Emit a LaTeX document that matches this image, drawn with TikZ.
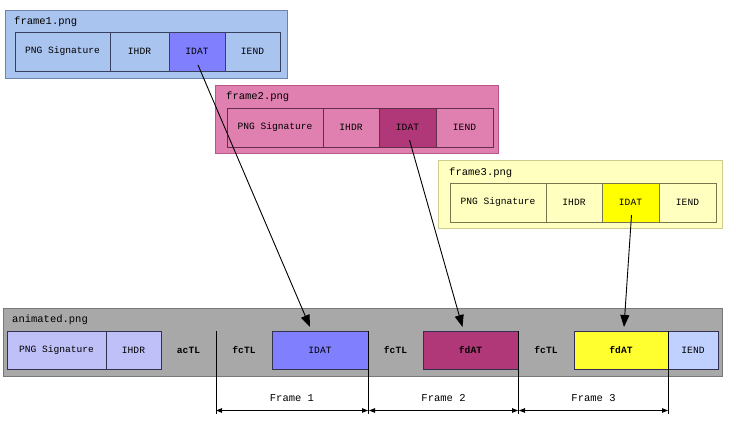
\documentclass[tikz,border=0pt]{standalone}
\usepackage{fontspec}
\setmonofont{Liberation Mono}
\usetikzlibrary{arrows.meta,positioning}
\definecolor{fonebg}{RGB}{170,196,240}
\definecolor{fonebd}{RGB}{110,130,175}
\definecolor{fonecell}{RGB}{55,65,95}
\definecolor{idatblue}{RGB}{128,128,255}
\definecolor{ftwobg}{RGB}{224,128,176}
\definecolor{ftwobd}{RGB}{185,85,135}
\definecolor{ftwocell}{RGB}{100,45,75}
\definecolor{idatmag}{RGB}{176,56,120}
\definecolor{fthreebg}{RGB}{255,255,192}
\definecolor{fthreebd}{RGB}{205,205,140}
\definecolor{fthreecell}{RGB}{120,120,80}
\definecolor{idatyel}{RGB}{255,255,0}
\definecolor{anibg}{RGB}{168,168,168}
\definecolor{anibd}{RGB}{120,120,120}
\definecolor{anicell}{RGB}{50,50,80}
\definecolor{lav}{RGB}{192,192,248}
\definecolor{iendblue}{RGB}{192,208,255}
\definecolor{fdyel}{RGB}{255,255,48}
\begin{document}
\begin{tikzpicture}[x=1pt,y=-1pt,
  box/.style={draw, anchor=north west, inner sep=0pt, outer sep=0pt, line width=0.8pt},
  cell/.style={draw, anchor=north west, inner sep=0pt, outer sep=0pt, line width=0.8pt, font=\ttfamily\fontsize{9.6}{10}\selectfont},
  bcell/.style={cell, font=\ttfamily\bfseries\fontsize{9.6}{10}\selectfont},
  title/.style={anchor=west, inner sep=0pt, font=\ttfamily\fontsize{10.5}{11}\selectfont},
  link/.style={line width=0.9pt, -{Triangle[length=12pt,width=9pt]}},
  dim/.style={line width=0.8pt, {Triangle[length=6pt,width=4.5pt]}-{Triangle[length=6pt,width=4.5pt]}},
  ext/.style={line width=0.6pt}
]
\useasboundingbox (0,0) rectangle (736,437);
% frame1
\node[box, fill=fonebg, draw=fonebd, minimum width=282pt, minimum height=68pt] (f1) at (5,10) {};
\node[title] (f1t) at (14,22) {frame1.png};
\node[cell, fill=fonebg, draw=fonecell, minimum width=95pt, minimum height=39pt] (f1sig) at (15,32) {PNG Signature};
\node[cell, fill=fonebg, draw=fonecell, minimum width=59pt, minimum height=39pt] (f1ihdr) at (110,32) {IHDR};
\node[cell, fill=idatblue, draw=fonecell, minimum width=56pt, minimum height=39pt] (f1idat) at (169,32) {IDAT};
\node[cell, fill=fonebg, draw=fonecell, minimum width=55pt, minimum height=39pt] (f1iend) at (225,32) {IEND};
% frame2
\node[box, fill=ftwobg, draw=ftwobd, minimum width=283pt, minimum height=68pt] (f2) at (215,85) {};
\node[title] (f2t) at (226,97) {frame2.png};
\node[cell, fill=ftwobg, draw=ftwocell, minimum width=96pt, minimum height=39pt] (f2sig) at (227,108) {PNG Signature};
\node[cell, fill=ftwobg, draw=ftwocell, minimum width=56pt, minimum height=39pt] (f2ihdr) at (323,108) {IHDR};
\node[cell, fill=idatmag, draw=ftwocell, minimum width=57pt, minimum height=39pt] (f2idat) at (379,108) {IDAT};
\node[cell, fill=ftwobg, draw=ftwocell, minimum width=57pt, minimum height=39pt] (f2iend) at (436,108) {IEND};
% frame3
\node[box, fill=fthreebg, draw=fthreebd, minimum width=284pt, minimum height=68pt] (f3) at (438,160) {};
\node[title] (f3t) at (449,173) {frame3.png};
\node[cell, fill=fthreebg, draw=fthreecell, minimum width=96pt, minimum height=39pt] (f3sig) at (450,183) {PNG Signature};
\node[cell, fill=fthreebg, draw=fthreecell, minimum width=56pt, minimum height=39pt] (f3ihdr) at (546,183) {IHDR};
\node[cell, fill=idatyel, draw=fthreecell, minimum width=57pt, minimum height=39pt] (f3idat) at (602,183) {IDAT};
\node[cell, fill=fthreebg, draw=fthreecell, minimum width=57pt, minimum height=39pt] (f3iend) at (659,183) {IEND};
% animated
\node[box, fill=anibg, draw=anibd, minimum width=719pt, minimum height=68pt] (an) at (3,308) {};
\node[title] (ant) at (12,320) {animated.png};
\node[bcell, draw=none, minimum width=55pt, minimum height=38pt] (aactl) at (161,331) {acTL};
\node[bcell, draw=none, minimum width=56pt, minimum height=38pt] (afctla) at (216,331) {fcTL};
\node[bcell, draw=none, minimum width=55pt, minimum height=38pt] (afctlb) at (368,331) {fcTL};
\node[bcell, draw=none, minimum width=56pt, minimum height=38pt] (afctlc) at (518,331) {fcTL};
\node[cell, fill=lav, draw=anicell, minimum width=99pt, minimum height=38pt] (asig) at (7,331) {PNG Signature};
\node[cell, fill=lav, draw=anicell, minimum width=55pt, minimum height=38pt] (aihdr) at (106,331) {IHDR};
\node[cell, fill=idatblue, draw=anicell, minimum width=96pt, minimum height=38pt] (aidat) at (272,331) {IDAT};
\node[bcell, fill=idatmag, draw=anicell, minimum width=95pt, minimum height=38pt] (afdatb) at (423,331) {fdAT};
\node[bcell, fill=fdyel, draw=anicell, minimum width=94pt, minimum height=38pt] (afdatc) at (574,331) {fdAT};
\node[cell, fill=iendblue, draw=anicell, minimum width=50pt, minimum height=38pt] (aiend) at (668,331) {IEND};
% extension lines
\coordinate (e1) at (216,414);
\coordinate (e2) at (368,414);
\coordinate (e3) at (518,414);
\coordinate (e4) at (668,414);
\draw[ext] (afctla.north west) -- (e1);
\draw[ext] (aidat.north east) -- (e2);
\draw[ext] (afdatb.north east) -- (e3);
\draw[ext] (afdatc.north east) -- (e4);
\coordinate (d1a) at (216,410.5);
\coordinate (d1b) at (368,410.5);
\coordinate (d2a) at (369,410.5);
\coordinate (d2b) at (518,410.5);
\coordinate (d3a) at (519,410.5);
\coordinate (d3b) at (668,410.5);
\draw[dim] (d1a) -- node[above=5pt, font=\ttfamily\fontsize{10.5}{11}\selectfont] (fr1) {Frame 1} (d1b);
\draw[dim] (d2a) -- node[above=5pt, font=\ttfamily\fontsize{10.5}{11}\selectfont] (fr2) {Frame 2} (d2b);
\draw[dim] (d3a) -- node[above=5pt, font=\ttfamily\fontsize{10.5}{11}\selectfont] (fr3) {Frame 3} (d3b);
% links
\draw[link] ([xshift=1pt,yshift=6pt]f1idat.south) -- ([xshift=-10pt,yshift=4pt]aidat.north);
\draw[link] ([xshift=2pt,yshift=7pt]f2idat.south) -- ([xshift=-8pt,yshift=4pt]afdatb.north);
\draw[link] ([xshift=1pt,yshift=7pt]f3idat.south) -- ([xshift=3pt,yshift=4pt]afdatc.north);
\end{tikzpicture}
\end{document}
